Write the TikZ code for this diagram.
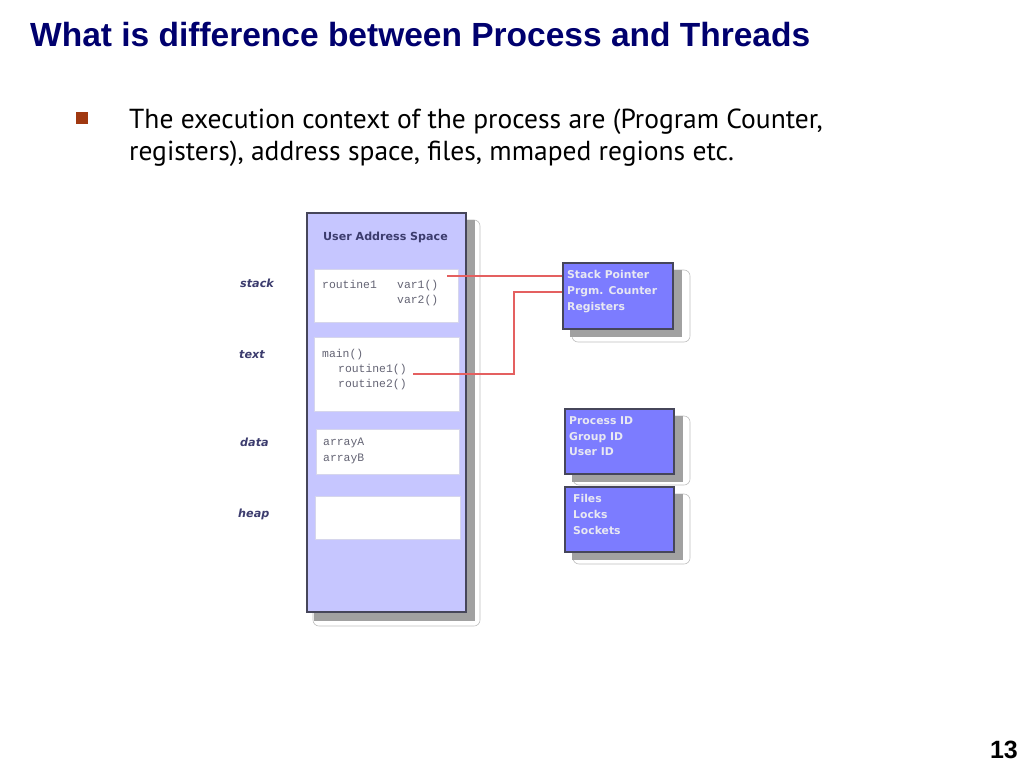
\documentclass[tikz,border=0pt]{standalone}
\usepackage{fontspec}
\setmainfont{PT Sans}
\newfontfamily\titlefont{Liberation Sans}
\newfontfamily\diag{DejaVu Sans}
\setmonofont{Liberation Mono}
\definecolor{navy}{RGB}{0,0,110}
\definecolor{lav}{RGB}{198,198,255}
\definecolor{regblue}{RGB}{124,124,255}
\definecolor{labnavy}{RGB}{60,60,110}
\definecolor{linkred}{RGB}{228,96,96}
\definecolor{bulletbrown}{RGB}{160,56,16}
\definecolor{monogray}{RGB}{100,100,116}
\definecolor{boxtext}{RGB}{232,232,242}
\definecolor{innerline}{RGB}{214,214,236}
\definecolor{frame}{RGB}{70,70,90}
\begin{document}
\begin{tikzpicture}[x=1pt,y=-1pt,
  shadowbox/.style={fill=black!37, draw=none},
  halo/.style={draw=black!25, rounded corners=6pt, line width=0.6pt},
  mainbox/.style={draw=frame, fill=lav, line width=1.3pt, minimum width=159pt, minimum height=399pt, inner sep=0},
  innerbox/.style={draw=innerline, fill=white, line width=0.8pt, inner sep=0},
  infobox/.style={draw=frame, fill=regblue, line width=1.3pt, inner sep=0},
  infotext/.style={anchor=base west, inner sep=0, text=boxtext, font=\diag\bfseries\fontsize{10.8}{12}\selectfont},
  monotext/.style={anchor=base west, inner sep=0, text=monogray, font=\ttfamily\fontsize{11.4}{13}\selectfont},
  seglabel/.style={anchor=base west, inner sep=0, text=labnavy, font=\diag\bfseries\itshape\fontsize{11.2}{13}\selectfont},
  link/.style={draw=linkred, line width=1.1pt}
]
\useasboundingbox[fill=white] (0,0) rectangle (1024,768);

% title and bullet text
\node[anchor=base west, inner sep=0, text=navy, font=\titlefont\bfseries\fontsize{33.5}{38}\selectfont] (title) at (30,46.5) {What is difference between Process and Threads};
\node[fill=bulletbrown, minimum size=12pt, inner sep=0] (bullet) at (82,118) {};
\node[anchor=base west, inner sep=0, font=\fontsize{27.5}{32}\selectfont] (body1) at (129,128) {The execution context of the process are (Program Counter,};
\node[anchor=base west, inner sep=0, font=\fontsize{27.5}{32}\selectfont] (body2) at (129,160) {registers), address space, files, mmaped regions etc.};

% main address space box
\draw[halo] (313,220) rectangle (480,626);
\fill[shadowbox] (314,220) rectangle (475,621);
\node[mainbox] (uas) at (386.5,412.5) {};
\node[anchor=base, inner sep=0, text=labnavy, font=\diag\bfseries\fontsize{11.1}{13}\selectfont] (uastitle) at (385.5,240) {User Address Space};

\node[innerbox, minimum width=144pt, minimum height=53pt] (stackbox) at (386,295.5) {};
\node[innerbox, minimum width=145pt, minimum height=74pt] (textbox) at (386.5,374) {};
\node[innerbox, minimum width=143pt, minimum height=45pt] (databox) at (387.5,451.5) {};
\node[innerbox, minimum width=145pt, minimum height=43pt] (heapbox) at (387.5,517.5) {};

\node[monotext] (r1s) at (322,288) {routine1};
\node[monotext] (v1) at (397,288) {var1()};
\node[monotext] (v2) at (397,303) {var2()};
\node[monotext] (mn) at (322,357) {main()};
\node[monotext] (r1t) at (338,372) {routine1()};
\node[monotext] (r2t) at (338,387) {routine2()};
\node[monotext] (aa) at (323,445) {arrayA};
\node[monotext] (ab) at (323,461) {arrayB};

\node[seglabel] (lstack) at (240,287) {stack};
\node[seglabel] (ltext) at (239,358) {text};
\node[seglabel] (ldata) at (240,446) {data};
\node[seglabel] (lheap) at (238,517) {heap};

% registers box
\draw[halo] (572,270) rectangle (690,342);
\fill[shadowbox] (570,270) rectangle (682,337);
\node[infobox, minimum width=110pt, minimum height=66pt] (reg) at (618,296) {};
\node[infotext] (t1) at (567,278) {Stack Pointer};
\node[infotext] (t2) at (567,294) {Prgm. Counter};
\node[infotext] (t3) at (567,310) {Registers};

% process id box
\draw[halo] (573,416) rectangle (690,485);
\fill[shadowbox] (572,416) rectangle (683,482);
\node[infobox, minimum width=109pt, minimum height=65pt] (pid) at (619.5,441.5) {};
\node[infotext] (p1) at (569,424) {Process ID};
\node[infotext] (p2) at (569,440) {Group ID};
\node[infotext] (p3) at (569,455) {User ID};

% files box
\draw[halo] (573,494) rectangle (690,564);
\fill[shadowbox] (572,494) rectangle (683,560);
\node[infobox, minimum width=109pt, minimum height=65pt] (files) at (619.5,519.5) {};
\node[infotext] (f1) at (573,502) {Files};
\node[infotext] (f2) at (573,518) {Locks};
\node[infotext] (f3) at (573,534) {Sockets};

% connectors
\coordinate (c1) at (447,276);
\coordinate (c2) at (413,374);
\draw[link] (c1) -- ([yshift=20pt]reg.west);
\draw[link] (c2) -- (514,374) |- ([yshift=4pt]reg.west);

% page number
\node[anchor=base east, inner sep=0, font=\titlefont\bfseries\fontsize{25}{28}\selectfont] (pg) at (1018,758) {13};
\end{tikzpicture}
\end{document}
